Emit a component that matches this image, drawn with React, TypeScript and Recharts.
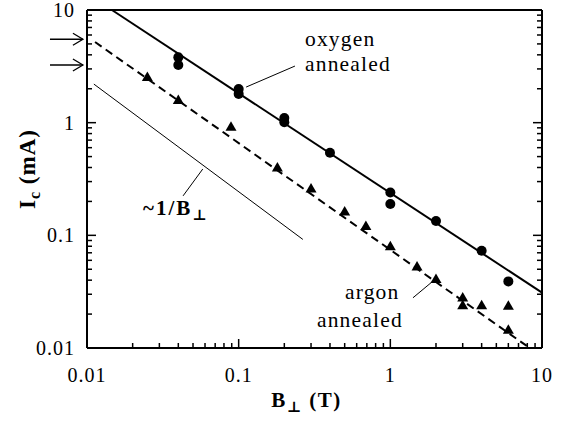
import React from 'react';
import { ScatterChart, Scatter, XAxis, YAxis, ReferenceLine, ReferenceDot } from 'recharts';

const oxygenB = [0.04, 0.04, 0.1, 0.1, 0.2, 0.2, 0.4, 1, 1, 2, 4, 6];
const oxygenIc = [3.8, 3.25, 1.99, 1.8, 1.1, 1.01, 0.54, 0.24, 0.19, 0.134, 0.073, 0.039];
const argonB = [0.025, 0.04, 0.089, 0.18, 0.3, 0.5, 0.69, 1, 1.5, 2, 3, 3, 4, 6, 6];
const argonIc = [2.54, 1.59, 0.92, 0.4, 0.26, 0.163, 0.121, 0.08, 0.053, 0.041, 0.028, 0.024, 0.024, 0.0237, 0.0145];

// fit lines and guide line (end points)
const oxygenFit = [{ x: 0.0146, y: 10 }, { x: 10, y: 0.031 }];
const argonFit = [{ x: 0.0113, y: 5.2 }, { x: 8.3, y: 0.01 }];
const inverseB = [{ x: 0.0111, y: 2.2 }, { x: 0.265, y: 0.092 }];

// arrows on the left edge
const arrowIc = [5.5, 3.25];

const majorTicks = [0.01, 0.1, 1, 10];
const majorLabels = ['0.01', '0.1', '1', '10'];
const minorSteps = [2, 3, 4, 5, 6, 7, 8, 9];

const allTicks: number[] = [];
majorTicks.forEach((d, i) => {
  allTicks.push(d);
  if (i < majorTicks.length - 1) minorSteps.forEach(k => allTicks.push(Number((d * k).toPrecision(3))));
});

const oxygenData = oxygenB.map((b, i) => ({ b, ic: oxygenIc[i] }));
const argonData = argonB.map((b, i) => ({ b, ic: argonIc[i] }));

const FONT = '"Liberation Serif", "DejaVu Serif", serif';
const labelOf = (v: number) => {
  const i = majorTicks.findIndex(m => Math.abs(m - v) < 1e-9);
  return i >= 0 ? majorLabels[i] : null;
};

const BottomTick = ({ x, y, payload }: any) => {
  const lab = labelOf(payload.value);
  return (
    <g>
      <line x1={x} x2={x} y1={y} y2={y - (lab ? 9 : 5)} stroke="#000" strokeWidth={1.5} />
      {lab && (
        <text x={x} y={y + 34} textAnchor="middle" fontFamily={FONT} fontSize={20} letterSpacing={1} fill="#000">{lab}</text>
      )}
    </g>
  );
};

const TopTick = ({ x, y, payload }: any) => {
  const lab = labelOf(payload.value);
  return <line x1={x} x2={x} y1={y} y2={y + (lab ? 9 : 5)} stroke="#000" strokeWidth={1.5} />;
};

const LeftTick = ({ x, y, payload }: any) => {
  const lab = labelOf(payload.value);
  return (
    <g>
      <line x1={x} x2={x + (lab ? 9 : 5)} y1={y} y2={y} stroke="#000" strokeWidth={1.5} />
      {lab && (
        <text x={x - 12} y={y + 7} textAnchor="end" fontFamily={FONT} fontSize={20} letterSpacing={1} fill="#000">{lab}</text>
      )}
    </g>
  );
};

const RightTick = ({ x, y, payload }: any) => {
  const lab = labelOf(payload.value);
  return <line x1={x} x2={x - (lab ? 9 : 5)} y1={y} y2={y} stroke="#000" strokeWidth={1.5} />;
};

const Arrow = (p: any) => (
  <g>
    <line x1={p.x1} y1={p.y1} x2={p.x2} y2={p.y2} stroke="#000" strokeWidth={1.3} />
    <path d={`M${p.x2 - 10},${p.y2 - 6} L${p.x2},${p.y2} L${p.x2 - 10},${p.y2 + 6}`} fill="none" stroke="#000" strokeWidth={1.3} />
  </g>
);

const note = (text: React.ReactNode, bold = false, size = 21.5, spacing = 1.2) => (p: any) => (
  <text x={p.cx} y={p.cy} fontFamily={FONT} fontSize={size} letterSpacing={spacing}
    fontWeight={bold ? 'bold' : 'normal'} fill="#000">{text}</text>
);

const axisLine = { stroke: '#000', strokeWidth: 2 };

export default function App() {
  return (
    <div style={{ position: 'absolute', left: 0, top: 0, background: '#fff' }}>
      <ScatterChart width={572} height={426} margin={{ top: 9, right: 29, bottom: 0, left: 0 }}>
        <XAxis
          xAxisId="b" dataKey="b" type="number" scale="log" domain={[0.01, 10]} allowDataOverflow
          ticks={allTicks} interval={0} tickSize={0} tickMargin={0} tickLine={false}
          axisLine={axisLine} tick={BottomTick} height={78}
          label={({ viewBox }: any) => (
            <text x={viewBox.x + viewBox.width / 2 - 8} y={viewBox.y + 59} textAnchor="middle"
              fontFamily={FONT} fontWeight="bold" fontSize={21} letterSpacing={1.5} fill="#000">
              B<tspan dy={5} fontSize={15}>⊥</tspan><tspan dy={-5}> (T)</tspan>
            </text>
          )}
        />
        <XAxis
          xAxisId="t" type="number" scale="log" domain={[0.01, 10]} allowDataOverflow orientation="top"
          ticks={allTicks} interval={0} tickSize={0} tickMargin={0} tickLine={false}
          axisLine={axisLine} tick={TopTick} height={1}
        />
        <YAxis
          yAxisId="l" dataKey="ic" type="number" scale="log" domain={[0.01, 10]} allowDataOverflow
          ticks={allTicks} interval={0} tickSize={0} tickMargin={0} tickLine={false}
          axisLine={axisLine} tick={LeftTick} width={87}
          label={({ viewBox }: any) => {
            const cx = viewBox.x + 35;
            const cy = viewBox.y + viewBox.height / 2 - 10;
            return (
              <text x={cx} y={cy} transform={`rotate(-90, ${cx}, ${cy})`} textAnchor="middle"
                fontFamily={FONT} fontWeight="bold" fontSize={23} letterSpacing={1} fill="#000">
                I<tspan dy={5} fontSize={16}>c</tspan><tspan dy={-5}> (mA)</tspan>
              </text>
            );
          }}
        />
        <YAxis
          yAxisId="r" type="number" scale="log" domain={[0.01, 10]} allowDataOverflow orientation="right"
          ticks={allTicks} interval={0} tickSize={0} tickMargin={0} tickLine={false}
          axisLine={axisLine} tick={RightTick} width={1}
        />

        <ReferenceLine xAxisId="b" yAxisId="l" segment={oxygenFit} stroke="#000" strokeWidth={2} ifOverflow="visible" />
        <ReferenceLine xAxisId="b" yAxisId="l" segment={argonFit} stroke="#000" strokeWidth={2} strokeDasharray="8 5" ifOverflow="visible" />
        <ReferenceLine xAxisId="b" yAxisId="l" segment={inverseB} stroke="#000" strokeWidth={1} ifOverflow="visible" />

        {/* leader lines to labels */}
        <ReferenceLine xAxisId="b" yAxisId="l" segment={[{ x: 0.112, y: 2.07 }, { x: 0.235, y: 3.18 }]} stroke="#000" strokeWidth={1} ifOverflow="visible" />
        <ReferenceLine xAxisId="b" yAxisId="l" segment={[{ x: 0.043, y: 0.224 }, { x: 0.058, y: 0.388 }]} stroke="#000" strokeWidth={1} ifOverflow="visible" />
        <ReferenceLine xAxisId="b" yAxisId="l" segment={[{ x: 1.41, y: 0.0279 }, { x: 1.9, y: 0.039 }]} stroke="#000" strokeWidth={1} ifOverflow="visible" />

        {arrowIc.map(v => (
          <ReferenceLine key={v} xAxisId="b" yAxisId="l" segment={[{ x: 0.0057, y: v }, { x: 0.0094, y: v }]}
            ifOverflow="visible" shape={Arrow} />
        ))}

        <Scatter data={oxygenData} xAxisId="b" yAxisId="l" isAnimationActive={false}
          shape={(p: any) => <circle cx={p.cx} cy={p.cy} r={5} fill="#000" />} />
        <Scatter data={argonData} xAxisId="b" yAxisId="l" isAnimationActive={false}
          shape={(p: any) => (
            <path d={`M${p.cx},${p.cy - 5.5} L${p.cx + 5.5},${p.cy + 4} L${p.cx - 5.5},${p.cy + 4} Z`} fill="#000" />
          )} />

        <ReferenceDot xAxisId="b" yAxisId="l" x={0.2735} y={4.8} r={0} ifOverflow="visible" shape={note('oxygen')} />
        <ReferenceDot xAxisId="b" yAxisId="l" x={0.2735} y={2.85} r={0} ifOverflow="visible" shape={note('annealed')} />
        <ReferenceDot xAxisId="b" yAxisId="l" x={0.502} y={0.0273} r={0} ifOverflow="visible" shape={note('argon')} />
        <ReferenceDot xAxisId="b" yAxisId="l" x={0.328} y={0.0154} r={0} ifOverflow="visible" shape={note('annealed')} />
        <ReferenceDot xAxisId="b" yAxisId="l" x={0.0234} y={0.152} r={0} ifOverflow="visible"
          shape={note(<>~1/B<tspan dy={5} fontSize={15}>⊥</tspan></>, true, 21, 2)} />
      </ScatterChart>
    </div>
  );
}
